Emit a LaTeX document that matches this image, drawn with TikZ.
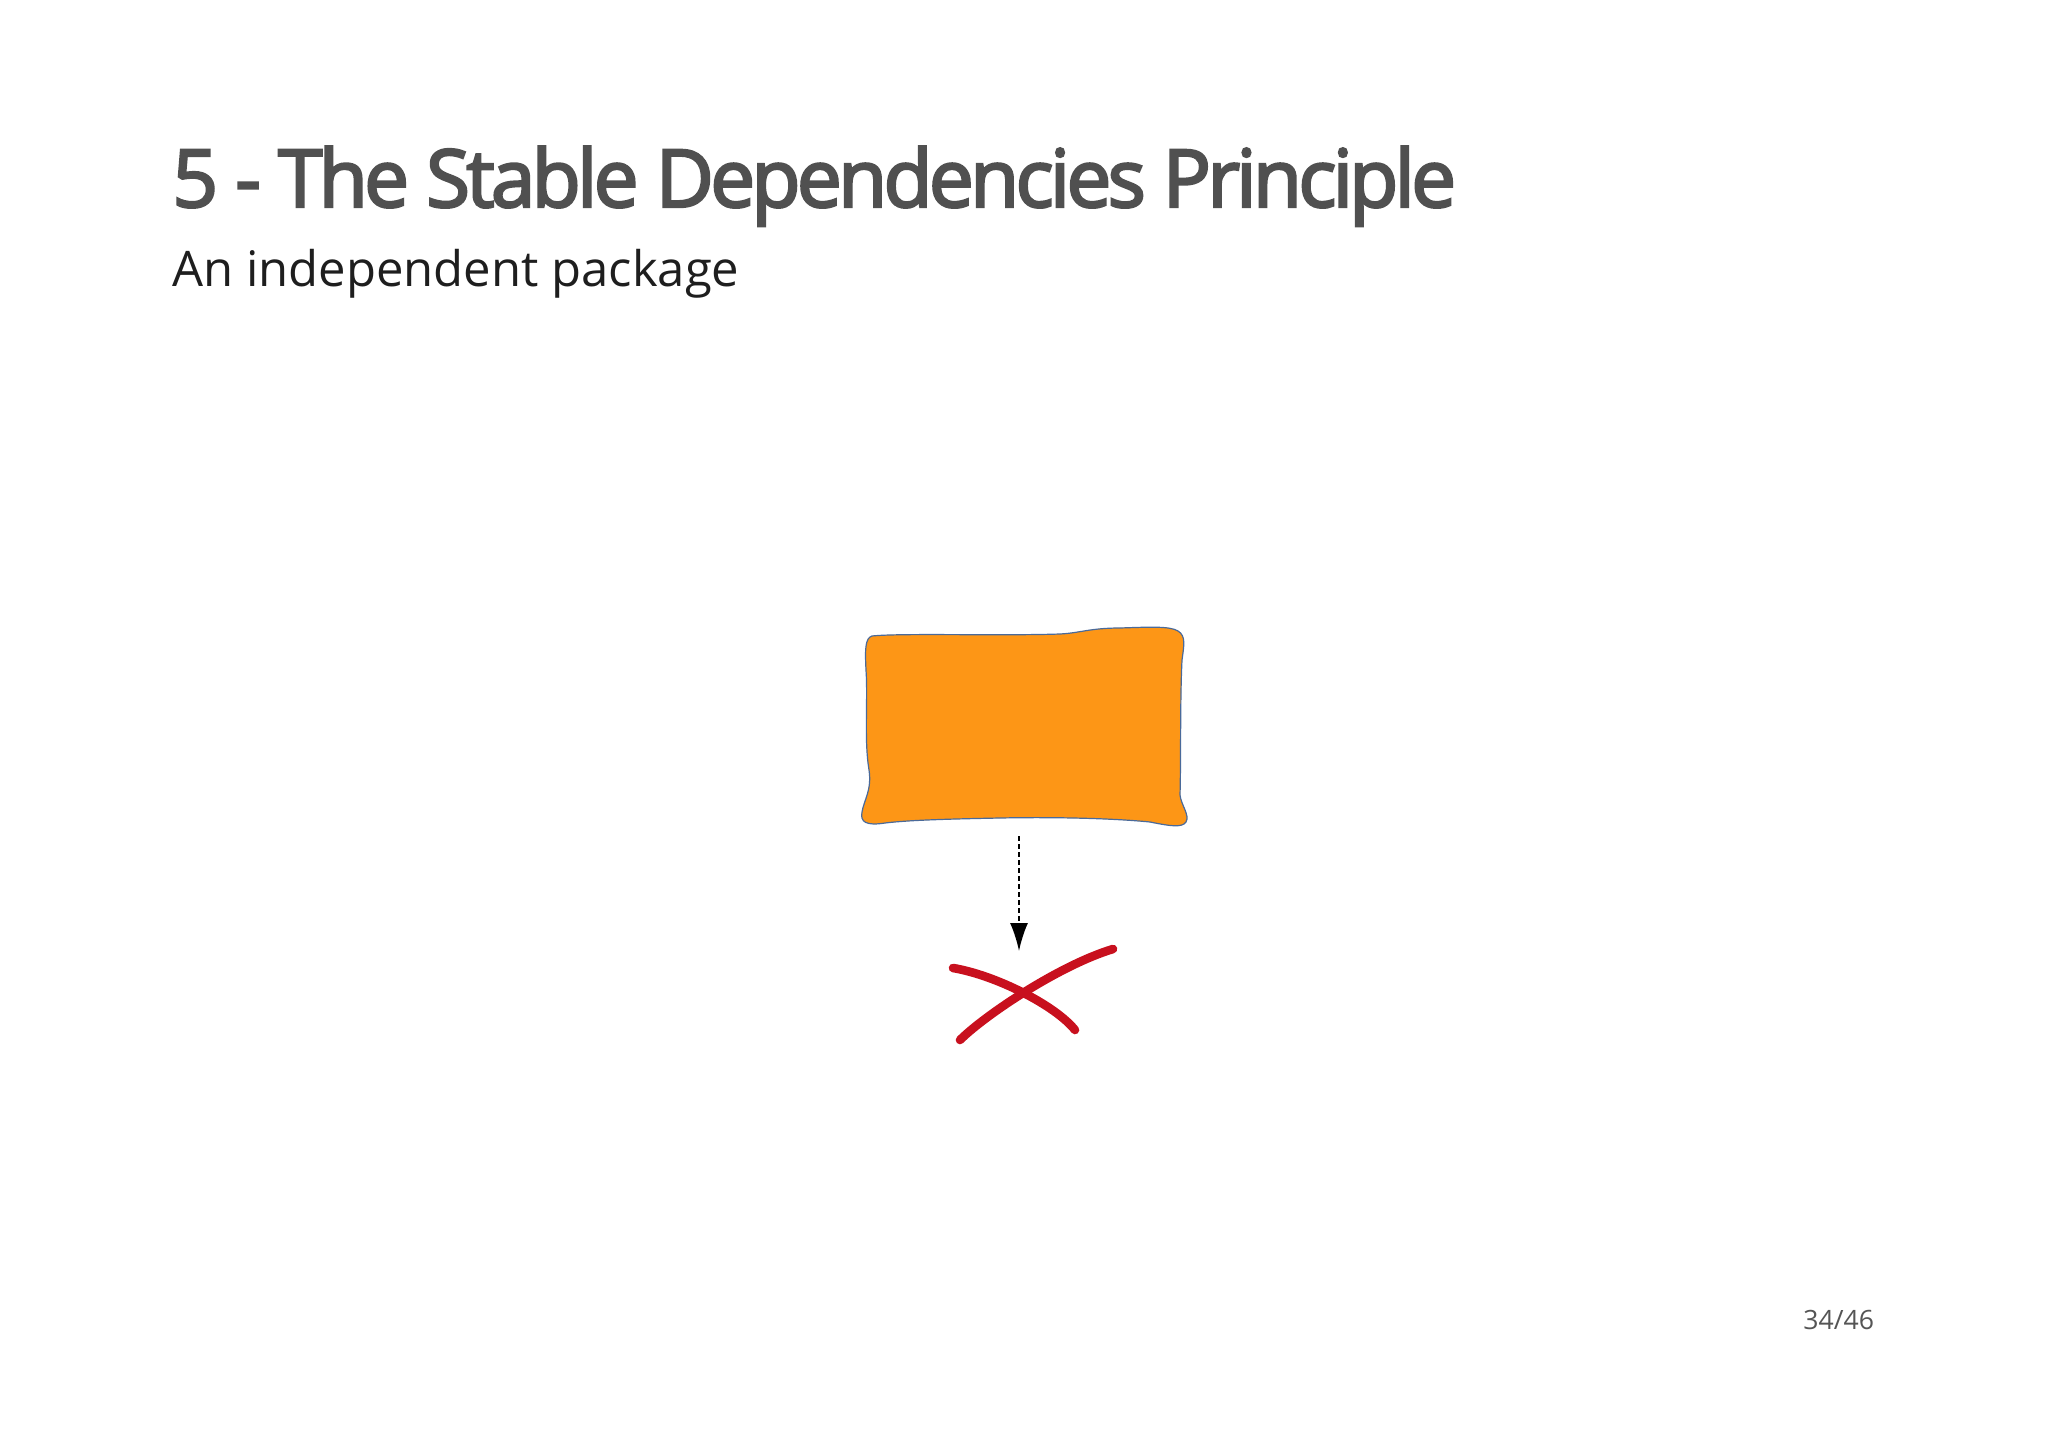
\documentclass[tikz,border=0pt]{standalone}
\usepackage{fontspec}
\setmainfont{Open Sans}
\newfontfamily\titlefont{Open Sans}[LetterSpace=-4.6]
\newcommand{\semiboldon}{\special{pdf:literal 2 Tr 1.2 w}}
\newcommand{\semiboldoff}{\special{pdf:literal 0 Tr}}
\usetikzlibrary{arrows.meta}
\definecolor{titlegray}{HTML}{505050}
\definecolor{subdark}{HTML}{1E1E1E}
\definecolor{pagegray}{HTML}{555555}
\definecolor{pkgorange}{HTML}{FD9616}
\definecolor{pkgedge}{HTML}{4A6A9A}
\definecolor{xred}{HTML}{C8101E}
\tikzset{
  titletext/.style={anchor=base west, inner sep=0pt, text=titlegray, font=\titlefont\fontsize{40}{48}\selectfont},
  subtext/.style={anchor=base west, inner sep=0pt, text=subdark, font=\fontsize{24.5}{30}\selectfont},
  pagetext/.style={anchor=base west, inner sep=0pt, text=pagegray, font=\fontsize{13.3}{16}\selectfont},
  pkgshape/.style={fill=pkgorange, draw=pkgedge, line width=0.6pt},
  dep/.style={densely dashed, dash pattern=on 2.5pt off 1.5pt, line width=0.9pt, -{Latex[length=14pt,width=9pt]}},
  redstroke/.style={draw=xred, line width=4.3pt, line cap=round}
}
\begin{document}
\begin{tikzpicture}[x=0.5pt,y=-0.5pt]
\useasboundingbox[fill=white] (0,0) rectangle (2048,1449);
\node[titletext] (title) at (172,207) {\semiboldon 5 - The Stable Dependencies Principle\semiboldoff};
\node[subtext] (subtitle) at (172,287) {An independent package};
\node[pagetext] (page) at (1803,1329) {34/46};
% package box
\node[minimum width=162.5pt, minimum height=100pt, inner sep=0pt] (box) at (1024,727) {};
\draw[pkgshape] (872,636) .. controls (900,633) and (1000,636) .. (1060,634)
  .. controls (1080,633) and (1090,628) .. (1120,628)
  .. controls (1150,627) and (1170,626) .. (1178,631)
  .. controls (1186,636) and (1184,645) .. (1182,660)
  .. controls (1180,700) and (1181,760) .. (1180,795)
  .. controls (1181,805) and (1190,815) .. (1186,822)
  .. controls (1182,828) and (1170,826) .. (1150,822)
  .. controls (1110,818) and (1050,817) .. (1000,818)
  .. controls (950,819) and (910,820) .. (885,823)
  .. controls (866,826) and (860,822) .. (862,812)
  .. controls (864,800) and (872,790) .. (869,770)
  .. controls (864,740) and (868,700) .. (866,670)
  .. controls (865,650) and (865,638) .. (872,636) -- cycle;
% cross
\node[minimum width=83pt, minimum height=50.5pt, inner sep=0pt] (cross) at (1033,995) {};
\draw[redstroke] (953,968) .. controls (995,975) and (1055,1005) .. (1075,1030);
\draw[redstroke] (960,1040) .. controls (985,1015) and (1060,965) .. (1113,949);
% dependency arrow
\coordinate (depstart) at (1019,836);
\coordinate (depend) at (1019,951);
\draw[dep] (depstart) -- (depend);
\end{tikzpicture}
\end{document}
